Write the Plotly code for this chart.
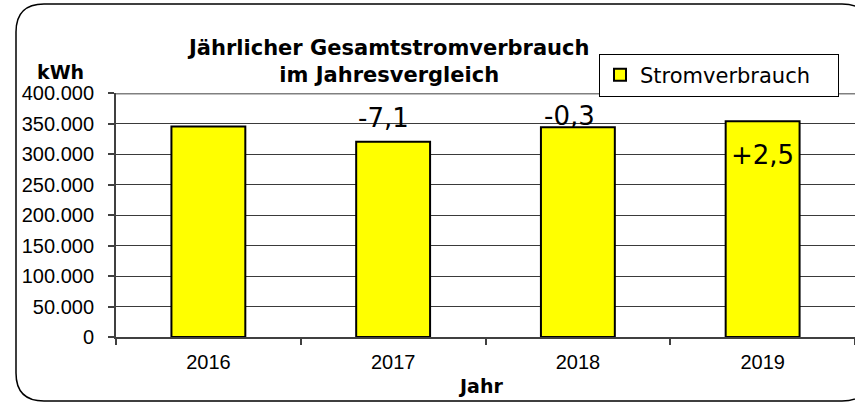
import plotly.graph_objects as go

# ---- data ----
years = ["2016", "2017", "2018", "2019"]
consumption_kwh = [345000, 320000, 344000, 353500]
change_labels = ["", "-7,1", "-0,3", "+2,5"]
series_name = "Stromverbrauch"
title_text = "Jährlicher Gesamtstromverbrauch<br>im Jahresvergleich"
y_title = "kWh"
x_title = "Jahr"
y_ticks = [0, 50000, 100000, 150000, 200000, 250000, 300000, 350000, 400000]

# ---- layout geometry (pixels) ----
W, H = 855, 402
ML, MR, MT, MB = 116, 0, 93, 65
PW, PH = W - ML - MR, H - MT - MB


def px(xp):
    return (xp - ML) / PW


def py(yp):
    return (H - MB - yp) / PH


label_shift_x = [0, -10, -8, 0]
label_shift_y = [0, 24, 11, -34]

fig = go.Figure()
fig.add_trace(go.Bar(
    x=years, y=consumption_kwh, name=series_name,
    marker=dict(color="#FFFF00", line=dict(color="#000000", width=2)),
    showlegend=True,
))

annotations = []
for i, (v, lab, dx, dy) in enumerate(zip(consumption_kwh, change_labels, label_shift_x, label_shift_y)):
    if lab:
        annotations.append(dict(
            x=i, y=v, xref="x", yref="y", text=lab, showarrow=False,
            xshift=dx, yshift=dy, yanchor="middle",
            font=dict(family="DejaVu Sans", size=26, color="#000000"),
        ))

annotations.append(dict(
    x=px(388), y=py(61), xref="paper", yref="paper", text="<b>" + title_text.replace("<br>", "</b><br><b>") + "</b>",
    showarrow=False, xanchor="center", yanchor="middle", align="center",
    font=dict(family="DejaVu Sans", size=21, color="#000000"),
))
annotations.append(dict(
    x=px(60), y=py(72), xref="paper", yref="paper", text="<b>" + y_title + "</b>",
    showarrow=False, xanchor="center", yanchor="middle",
    font=dict(family="DejaVu Sans", size=19, color="#000000"),
))
annotations.append(dict(
    x=px(480), y=py(386), xref="paper", yref="paper", text="<b>" + x_title + "</b>",
    showarrow=False, xanchor="center", yanchor="middle",
    font=dict(family="DejaVu Sans", size=19, color="#000000"),
))

# rounded outer frame
fx0, fy0, fx1, fy1, r = 16, 4, 870, 401, 28
path = (
    f"M {px(fx0 + r)},{py(fy0)} L {px(fx1 - r)},{py(fy0)} "
    f"Q {px(fx1)},{py(fy0)} {px(fx1)},{py(fy0 + r)} "
    f"L {px(fx1)},{py(fy1 - r)} Q {px(fx1)},{py(fy1)} {px(fx1 - r)},{py(fy1)} "
    f"L {px(fx0 + r)},{py(fy1)} Q {px(fx0)},{py(fy1)} {px(fx0)},{py(fy1 - r)} "
    f"L {px(fx0)},{py(fy0 + r)} Q {px(fx0)},{py(fy0)} {px(fx0 + r)},{py(fy0)} Z"
)
shapes = [
    dict(type="path", path=path, xref="paper", yref="paper",
         line=dict(color="#000000", width=1.5), layer="above"),
    dict(type="line", xref="paper", yref="y", x0=0, x1=1, y0=y_ticks[-1], y1=y_ticks[-1],
         line=dict(color="#808080", width=3), layer="below"),
]

fig.update_layout(
    width=W, height=H,
    margin=dict(l=ML, r=MR, t=MT, b=MB),
    paper_bgcolor="#FFFFFF", plot_bgcolor="#FFFFFF",
    separators=",.",
    bargap=0.6,
    font=dict(family="Liberation Sans, Arial", size=20, color="#000000"),
    annotations=annotations,
    shapes=shapes,
    legend=dict(
        orientation="h",
        x=px(839), y=py(75), xanchor="right", yanchor="middle",
        bgcolor="#FFFFFF", bordercolor="#000000", borderwidth=1,
        font=dict(family="DejaVu Sans", size=21, color="#000000"),
        itemsizing="constant", entrywidth=193, entrywidthmode="pixels",
        tracegroupgap=0,
    ),
    xaxis=dict(
        type="category", range=[-0.5, len(years) - 0.5], autorange=False,
        showgrid=False, showline=True, linecolor="#404040", linewidth=2,
        ticks="outside", tickson="boundaries", ticklen=6, tickcolor="#404040", tickwidth=1.5,
        ticklabelstandoff=6, tickangle=0,
        tickfont=dict(family="Liberation Sans, Arial", size=20, color="#000000"),
    ),
    yaxis=dict(
        range=[0, 400000], autorange=False, tickvals=y_ticks, tickformat=",d",
        showgrid=True, gridcolor="#3a3a3a", gridwidth=1,
        showline=True, linecolor="#404040", linewidth=2,
        ticks="outside", ticklen=6, tickcolor="#404040", tickwidth=1.5,
        ticklabelstandoff=10, zeroline=False,
        tickfont=dict(family="Liberation Sans, Arial", size=20, color="#000000"),
    ),
)

fig.write_html(
    "out.html",
    config={"displayModeBar": False},
    post_script="document.body.style.margin='0';document.body.style.overflow='hidden';",
)
